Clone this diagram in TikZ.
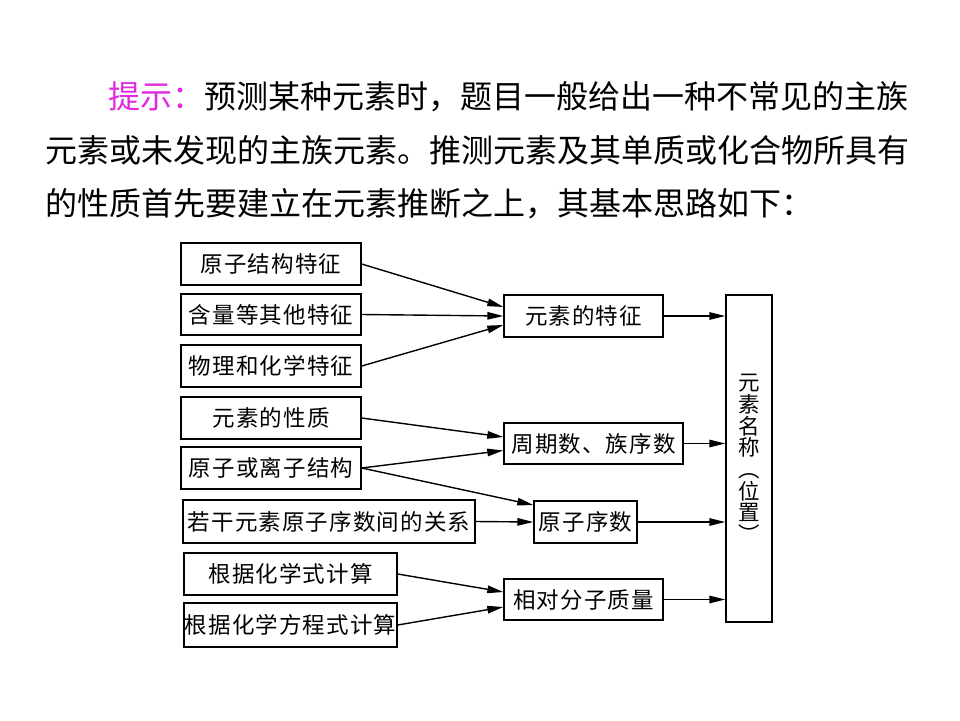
\documentclass[tikz,border=0pt]{standalone}
\usepackage{fontspec}
\newfontfamily\cjk{Noto Sans CJK SC}
\newfontfamily\cjkbox[LetterSpace=5]{Noto Sans CJK SC}
\usetikzlibrary{arrows.meta}
\definecolor{hintmagenta}{RGB}{225,40,225}
\begin{document}
\begin{tikzpicture}[x=1pt,y=-1pt,
  box/.style={draw=black,line width=1.4pt,inner sep=0pt,minimum height=42pt,
    font=\cjkbox\fontsize{22.5}{22.5}\selectfont},
  para/.style={anchor=west,inner sep=0pt,font=\cjk\fontsize{32}{32}\selectfont},
  arr/.style={line width=1.4pt,-{Triangle[length=16pt,width=7.5pt]}}]
\useasboundingbox (0,0) rectangle (960,720);
% paragraph
\node[para] (p1) at (108,97) {\textcolor{hintmagenta}{提示：}预测某种元素时，题目一般给出一种不常见的主族};
\node[para] (p2) at (45,150) {元素或未发现的主族元素。推测元素及其单质或化合物所具有};
\node[para] (p3) at (45,204) {的性质首先要建立在元素推断之上，其基本思路如下：};
% left boxes
\node[box,minimum width=180pt] (b1) at (271,264) {原子结构特征};
\node[box,minimum width=180pt,minimum height=41pt] (b2) at (271,314.5) {含量等其他特征};
\node[box,minimum width=180pt] (b3) at (271,366) {物理和化学特征};
\node[box,minimum width=180pt] (b4) at (271,418) {元素的性质};
\node[box,minimum width=180pt] (b5) at (271,468) {原子或离子结构};
\node[box,minimum width=292pt,minimum height=43pt] (b6) at (329,521.5) {若干元素原子序数间的关系};
\node[box,minimum width=213pt] (b7) at (290.5,574) {根据化学式计算};
\node[box,minimum width=213pt,minimum height=44pt] (b8) at (290.5,625) {根据化学方程式计算};
% middle boxes
\node[box,minimum width=159pt] (m1) at (583.5,316) {元素的特征};
\node[box,minimum width=179pt,minimum height=41pt] (m2) at (593.5,443.5) {周期数、族序数};
\node[box,minimum width=103pt] (m3) at (585.5,522) {原子序数};
\node[box,minimum width=159pt,minimum height=41pt] (m4) at (583.5,599.5) {相对分子质量};
% right box
\node[draw=black,line width=1.4pt,inner sep=0pt,minimum width=46pt,minimum height=327pt,
  align=center,font=\cjk\fontsize{21.5}{21.7}\selectfont] (r) at (749,458.5)
  {元\\素\\名\\称\\︵\\位\\置\\︶};
% arrows
\draw[arr] (b1.east) -- ([yshift=9pt]m1.west);
\draw[arr] (b2.east) -- (m1.west);
\draw[arr] (b3.east) -- ([yshift=-9pt]m1.west);
\draw[arr] (b4.east) -- ([yshift=6.5pt]m2.west);
\draw[arr] (b5.east) -- ([yshift=-7pt]m2.west);
\draw[arr] (b5.east) -- ([yshift=17pt]m3.west);
\draw[arr] (b6.east) -- (m3.west);
\draw[arr] (b7.east) -- ([yshift=7.5pt]m4.west);
\draw[arr] (b8.east) -- ([yshift=-7.5pt]m4.west);
\draw[arr] (m1.east) -- (r.west |- m1.east);
\draw[arr] (m2.east) -- (r.west |- m2.east);
\draw[arr] (m3.east) -- (r.west |- m3.east);
\draw[arr] (m4.east) -- (r.west |- m4.east);
\end{tikzpicture}
\end{document}
